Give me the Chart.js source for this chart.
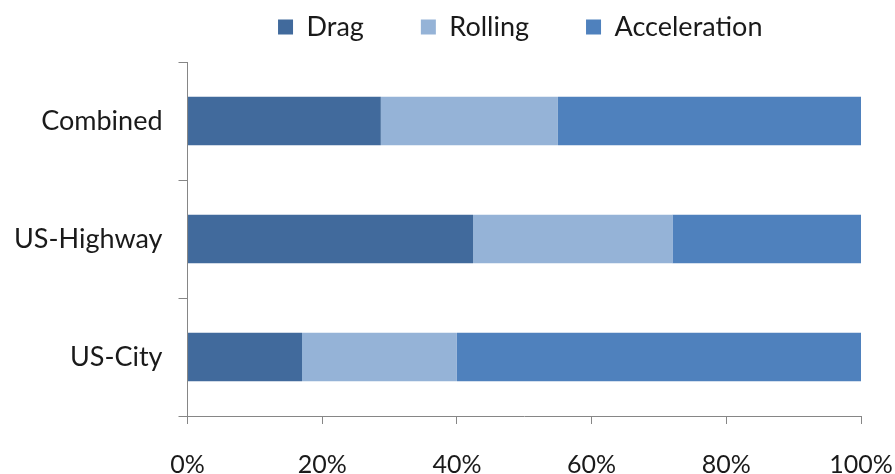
<!DOCTYPE html>
<html>
<head>
<meta charset="utf-8">
<script src="https://cdn.jsdelivr.net/npm/chart.js@4"></script>
<style>
  body { margin: 0; background: #fff; }
  #wrap { width: 895px; height: 474px; }
</style>
</head>
<body>
<div id="wrap"><canvas id="energyChart" width="895" height="474"></canvas></div>
<script>
const cycles = ['Combined', 'US-Highway', 'US-City'];
const dragShare = [28.7, 42.4, 17.0];
const rollingShare = [26.3, 29.6, 23.0];
const accelShare = [45.0, 28.0, 60.0];
const pctTicks = [0, 20, 40, 60, 80, 100];

const axisGray = '#868686';
const labelFont = { family: 'Lato, "Open Sans", sans-serif', size: 27 };

// legend: centre it over the plot area and pull the row up near the top edge
// (only the top moves, so the clip box still holds the row)
const legendShift = {
    id: 'legendShift',
    afterLayout(chart) {
        const lg = chart.legend;
        const dx = (chart.chartArea.left + chart.chartArea.right) / 2 - 3 - chart.width / 2;
        lg.left += dx;
        lg.right += dx;
        lg.top += 13.5 - lg.options.labels.padding - lg.top;
    }
};

const ctx = document.getElementById('energyChart');

new Chart(ctx, {
    type: 'bar',
    data: {
        labels: cycles,
        datasets: [
            { label: 'Drag', data: dragShare, backgroundColor: '#416A9C' },
            { label: 'Rolling', data: rollingShare, backgroundColor: '#95B3D7' },
            { label: 'Acceleration', data: accelShare, backgroundColor: '#4F81BD' }
        ]
    },
    options: {
        indexAxis: 'y',
        responsive: false,
        animation: false,
        datasets: {
            bar: { categoryPercentage: 1, barPercentage: 0.41 }
        },
        layout: { padding: { top: 0, left: -2, right: 0, bottom: -32 } },
        scales: {
            x: {
                stacked: true,
                min: 0,
                max: 100,
                afterBuildTicks(axis) {
                    axis.ticks = pctTicks.map(v => ({ value: v }));
                },
                afterFit(axis) {
                    axis.paddingRight = 34;   // just room for half of "100%"
                },
                border: { color: axisGray, width: 1 },
                grid: { drawOnChartArea: false, color: axisGray, tickLength: 8 },
                ticks: {
                    color: '#1a1a1a',
                    font: { family: labelFont.family, size: 25 },
                    padding: 26,
                    maxRotation: 0,
                    callback: v => v + '%'
                }
            },
            y: {
                stacked: true,
                border: { color: axisGray, width: 1 },
                grid: { offset: true, drawOnChartArea: false, color: axisGray, tickLength: 9 },
                ticks: { color: '#1a1a1a', font: labelFont, padding: 16 }
            }
        },
        plugins: {
            legend: {
                position: 'top',
                maxHeight: 62,
                labels: {
                    color: '#1a1a1a',
                    font: labelFont,
                    boxWidth: 15,
                    boxHeight: 15,
                    padding: 57
                }
            },
            tooltip: { enabled: false }
        }
    },
    plugins: [legendShift]
});
</script>
</body>
</html>
